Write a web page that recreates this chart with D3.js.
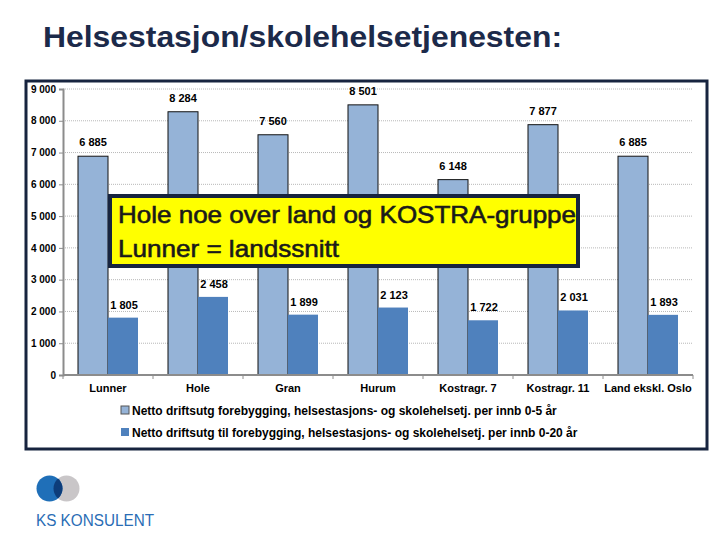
<!DOCTYPE html>
<html>
<head>
<meta charset="utf-8">
<style>
  body { margin: 0; background: #fff; }
  text { font-family: "Liberation Sans", Arial, sans-serif; }
</style>
</head>
<body>
<svg width="720" height="540"></svg>
<script src="https://d3js.org/d3.v7.min.js"></script>
<script>
var categories = ["Lunner", "Hole", "Gran", "Hurum", "Kostragr. 7", "Kostragr. 11", "Land ekskl. Oslo"];
var series05 = [6885, 8284, 7560, 8501, 6148, 7877, 6885];
var series020 = [1805, 2458, 1899, 2123, 1722, 2031, 1893];
var seriesNames = [
  "Netto driftsutg forebygging, helsestasjons- og skolehelsetj. per innb 0-5 år",
  "Netto driftsutg til forebygging, helsestasjons- og skolehelsetj. per innb 0-20 år"
];
var yTicks = [0, 1000, 2000, 3000, 4000, 5000, 6000, 7000, 8000, 9000];

var colors = ["#95b3d7", "#4f81bd"];
var navy = "#17243f";

var svg = d3.select("svg");

// title
svg.append("text")
  .attr("x", 43).attr("y", 47)
  .attr("font-size", 30).attr("font-weight", "bold")
  .attr("fill", "#1c2a4a")
  .attr("textLength", 519).attr("lengthAdjust", "spacingAndGlyphs")
  .text("Helsestasjon/skolehelsetjenesten:");

// frame
svg.append("rect")
  .attr("x", 26).attr("y", 81).attr("width", 681).attr("height", 368)
  .attr("fill", "#fff").attr("stroke", navy).attr("stroke-width", 3);

var x = d3.scaleBand().domain(categories).range([63, 693]).paddingInner(1 / 3).paddingOuter(1 / 6);
var xs = d3.scaleBand().domain([0, 1]).range([0, x.bandwidth()]);
var y = d3.scaleLinear().domain([0, 9000]).range([375, 89]);

// grid
svg.append("g").selectAll("line")
  .data(yTicks.slice(1))
  .enter().append("line")
    .attr("x1", 63).attr("x2", 693)
    .attr("y1", function(d) { return y(d); }).attr("y2", function(d) { return y(d); })
    .attr("stroke", "#b8b8b8").attr("stroke-dasharray", "1,1");

// y axis
var yAxis = svg.append("g")
  .attr("transform", "translate(63,0)")
  .call(d3.axisLeft(y).tickValues(yTicks).tickSize(4)
    .tickFormat(function(d) { return d3.format(",")(d).replace(",", " "); }));
yAxis.select(".domain").attr("stroke", "#8c8c8c").attr("stroke-width", 2);
yAxis.selectAll(".tick line").attr("stroke", "#8c8c8c");
yAxis.selectAll("text").attr("font-size", 10).attr("font-weight", "bold").attr("fill", "#000")
  .attr("font-family", "Liberation Sans Narrow, Liberation Sans, Arial");

// bars
var groups = svg.append("g").selectAll("g")
  .data(categories)
  .enter().append("g")
    .attr("transform", function(d) { return "translate(" + x(d) + ",0)"; });

groups.append("rect")
  .attr("x", xs(0)).attr("width", xs.bandwidth())
  .attr("y", function(d, i) { return y(series05[i]); })
  .attr("height", function(d, i) { return y(0) - y(series05[i]); })
  .attr("fill", colors[0]).attr("stroke", "#111").attr("stroke-width", 1);

groups.append("rect")
  .attr("x", xs(1)).attr("width", xs.bandwidth())
  .attr("y", function(d, i) { return y(series020[i]); })
  .attr("height", function(d, i) { return y(0) - y(series020[i]); })
  .attr("fill", colors[1]);

var fmt = function(v) { return d3.format(",")(v).replace(",", " "); };

groups.append("text")
  .attr("x", xs(0) + xs.bandwidth() / 2)
  .attr("y", function(d, i) { return y(series05[i]) - 10; })
  .attr("text-anchor", "middle").attr("font-size", 11).attr("font-weight", "bold")
  .text(function(d, i) { return fmt(series05[i]); });

groups.append("text")
  .attr("x", xs(1) + xs.bandwidth() / 2 + 1)
  .attr("y", function(d, i) { return y(series020[i]) - 9; })
  .attr("text-anchor", "middle").attr("font-size", 11).attr("font-weight", "bold")
  .text(function(d, i) { return fmt(series020[i]); });

// x axis
var xAxis = svg.append("g").attr("transform", "translate(0,375)");
xAxis.append("line").attr("x1", 63).attr("x2", 693).attr("stroke", "#8c8c8c").attr("stroke-width", 2);
xAxis.selectAll(".tk")
  .data(d3.range(categories.length + 1))
  .enter().append("line")
    .attr("x1", function(i) { return 63 + i * x.step(); })
    .attr("x2", function(i) { return 63 + i * x.step(); })
    .attr("y1", 0).attr("y2", 4).attr("stroke", "#8c8c8c");
xAxis.selectAll("text")
  .data(categories)
  .enter().append("text")
    .attr("x", function(d) { return x(d) + x.bandwidth() / 2; })
    .attr("y", 17)
    .attr("text-anchor", "middle").attr("font-size", 11).attr("font-weight", "bold")
    .text(function(d) { return d; });

// legend
var legend = svg.append("g").selectAll("g")
  .data(seriesNames)
  .enter().append("g")
    .attr("transform", function(d, i) { return "translate(121," + (411 + i * 22) + ")"; });
legend.append("rect")
  .attr("x", 0).attr("y", -5).attr("width", 8).attr("height", 8)
  .attr("fill", function(d, i) { return colors[i]; })
  .attr("stroke", function(d, i) { return i === 0 ? "#555" : "none"; });
legend.append("text")
  .attr("x", 11).attr("y", 4)
  .attr("font-size", 12).attr("font-weight", "bold")
  .text(function(d) { return d; });

// callout box
var box = svg.append("g");
box.append("rect")
  .attr("x", 110).attr("y", 196).attr("width", 468).attr("height", 70)
  .attr("fill", "#ffff00").attr("stroke", navy).attr("stroke-width", 4);
box.append("text").attr("x", 118).attr("y", 223).attr("font-size", 24)
  .attr("fill", "#1a1a1a").attr("stroke", "#1a1a1a").attr("stroke-width", 0.6)
  .attr("textLength", 458).attr("lengthAdjust", "spacingAndGlyphs")
  .text("Hole noe over land og KOSTRA-gruppe");
box.append("text").attr("x", 118).attr("y", 257).attr("font-size", 24)
  .attr("fill", "#1a1a1a").attr("stroke", "#1a1a1a").attr("stroke-width", 0.6)
  .attr("textLength", 221).attr("lengthAdjust", "spacingAndGlyphs")
  .text("Lunner = landssnitt");

// logo
var defs = svg.append("defs");
defs.append("clipPath").attr("id", "blueClip")
  .append("circle").attr("cx", 49.5).attr("cy", 488.5).attr("r", 13);
var logo = svg.append("g");
logo.append("circle").attr("cx", 66.5).attr("cy", 488.5).attr("r", 13).attr("fill", "#c9c6c8");
logo.append("circle").attr("cx", 49.5).attr("cy", 488.5).attr("r", 13).attr("fill", "#1f6fb8");
logo.append("circle").attr("cx", 66.5).attr("cy", 488.5).attr("r", 13).attr("fill", "#0d3d7a")
  .attr("clip-path", "url(#blueClip)");
logo.append("text").attr("x", 36).attr("y", 526).attr("font-size", 16).attr("fill", "#2a6db5")
  .attr("textLength", 118).attr("lengthAdjust", "spacingAndGlyphs")
  .attr("font-family", "Open Sans, Liberation Sans, Arial")
  .text("KS KONSULENT");
</script>
</body>
</html>
